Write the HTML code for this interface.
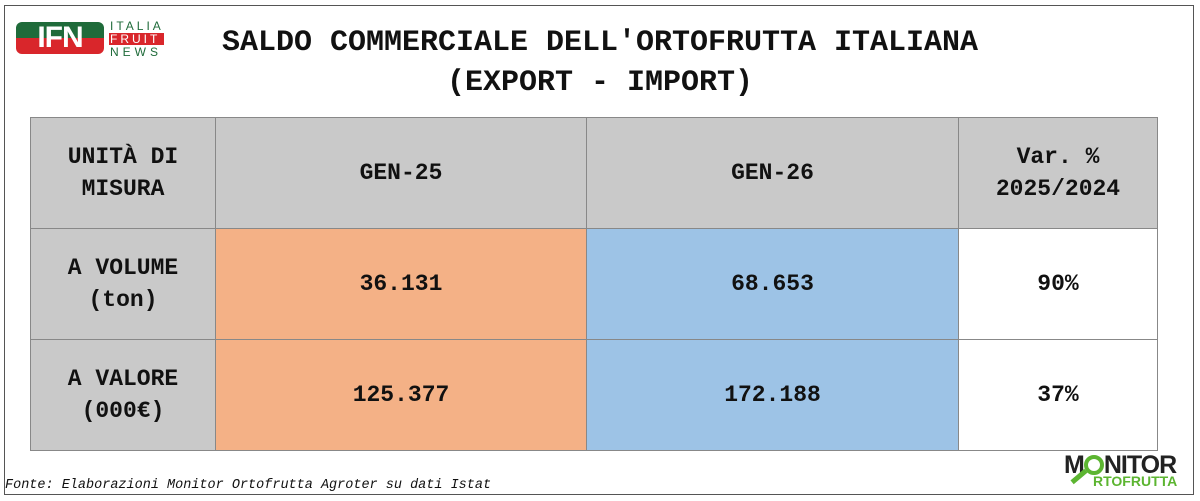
<!DOCTYPE html>
<html><head><meta charset="utf-8"><style>
body{margin:0;width:1200px;height:501px;background:#fff;position:relative;overflow:hidden;font-family:"Liberation Mono",monospace;}
.frame{position:absolute;left:4px;top:5px;width:1190px;height:490px;border:1px solid #555;box-sizing:border-box;}
.title{position:absolute;left:0;width:1200px;text-align:center;font-weight:bold;font-size:30px;color:#111;}
table{position:absolute;left:30px;top:117px;border-collapse:collapse;table-layout:fixed;}
td{border:1px solid #888;text-align:center;font-weight:bold;font-size:23px;line-height:32px;color:#111;padding:0;}
.g{background:#c9c9c9}.o{background:#f4b186}.b{background:#9dc3e6}.w{background:#fff}
.foot{position:absolute;left:5px;top:478px;font-style:italic;font-size:13.5px;color:#111;}
</style></head><body>
<div class="frame"></div>
<div style="position:absolute;left:16px;top:22px;width:88px;height:32px;border-radius:6px;overflow:hidden">
<div style="height:16px;background:#1f6b3a"></div><div style="height:16px;background:#d9262b"></div>
<div style="position:absolute;left:0;top:0;width:88px;text-align:center;color:#fff;font:bold 30px/32px 'Liberation Sans',sans-serif;letter-spacing:-1px">IFN</div></div>
<div style="position:absolute;left:110px;top:20px;font:12px/12px 'Liberation Sans',sans-serif;letter-spacing:3px;color:#1f6b3a">ITALIA</div>
<div style="position:absolute;left:109px;top:33px;width:54px;background:#d9262b;color:#fff;font:12px/12px 'Liberation Sans',sans-serif;letter-spacing:3px;padding-left:1px">FRUIT</div>
<div style="position:absolute;left:110px;top:46px;font:12px/12px 'Liberation Sans',sans-serif;letter-spacing:4px;color:#1f6b3a">NEWS</div>
<div class="title" style="top:26px">SALDO COMMERCIALE DELL'ORTOFRUTTA ITALIANA</div>
<div class="title" style="top:66px">(EXPORT - IMPORT)</div>
<table style="width:1128px">
<tr style="height:111px"><td class="g" style="width:184px">UNITÀ DI<br>MISURA</td><td class="g" style="width:370px">GEN-25</td><td class="g" style="width:371px">GEN-26</td><td class="g">Var. %<br>2025/2024</td></tr>
<tr style="height:111px"><td class="g">A VOLUME<br>(ton)</td><td class="o">36.131</td><td class="b">68.653</td><td class="w">90%</td></tr>
<tr style="height:111px"><td class="g">A VALORE<br>(000€)</td><td class="o">125.377</td><td class="b">172.188</td><td class="w">37%</td></tr>
</table>
<div class="foot">Fonte: Elaborazioni Monitor Ortofrutta Agroter su dati Istat</div>
<div style="position:absolute;left:1064px;top:452px;font:900 25px/26px 'Liberation Sans',sans-serif;color:#222;letter-spacing:-1px">M<span style="display:inline-block;width:20px;height:20px;border:4px solid #5cb531;border-radius:50%;box-sizing:border-box;vertical-align:-2px"></span>NITOR</div>
<div style="position:absolute;left:1093px;top:474px;font:900 14px/14px 'Liberation Sans',sans-serif;color:#5cb531">RTOFRUTTA</div>
<div style="position:absolute;left:1070px;top:474px;width:18px;height:5px;background:#5cb531;transform:rotate(-40deg)"></div>
</body></html>
